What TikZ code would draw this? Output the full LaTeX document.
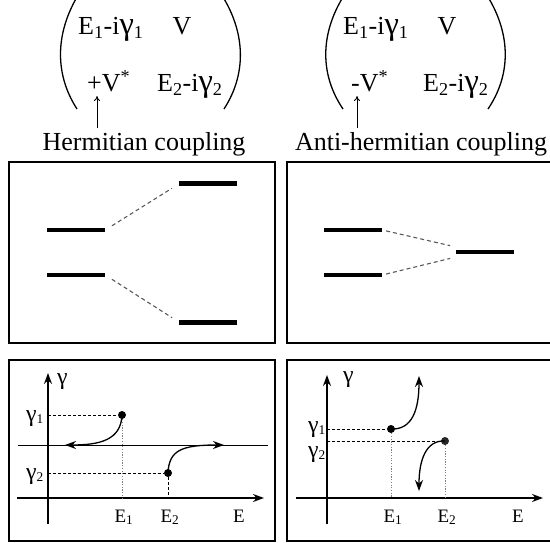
\documentclass[tikz,border=0pt]{standalone}
\usepackage{fontspec}
\usepackage{graphicx}
\setmainfont{Liberation Serif}
\usetikzlibrary{arrows.meta}
\newcommand\gm{\scalebox{1.25}{γ}}
\begin{document}
\begin{tikzpicture}[x=1pt,y=-1pt,
  frame/.style={line width=1.8pt},
  paren/.style={line width=1.3pt},
  big/.style={font=\fontsize{26}{30}\selectfont, inner sep=0pt},
  small/.style={font=\fontsize{19}{22}\selectfont, inner sep=0pt},
  levelbox/.style={fill=black, inner sep=0pt, minimum width=58pt, minimum height=4.5pt},
  conn/.style={gray!70!black, line width=1.1pt, dash pattern=on 4pt off 3pt},
  axis/.style={line width=1.4pt, -{Stealth[length=11pt,width=8pt]}},
  flow/.style={line width=1.3pt, -{Stealth[length=11pt,width=8pt]}},
  hguide/.style={line width=0.8pt, dash pattern=on 3pt off 2pt},
  vguide/.style={gray, line width=0.8pt, dash pattern=on 1.2pt off 1.5pt},
  pt/.style={circle, fill=black, inner sep=0pt, minimum size=8pt},
  coupl/.style={line width=0.9pt, -{To[length=5pt,width=6pt]}}
]
\useasboundingbox (0,0) rectangle (550,543);

% ---------- matrices ----------
\draw[paren] (77,-3) .. controls (55,35) and (55,75) .. (77,109);
\draw[paren] (223,-3) .. controls (246,35) and (246,75) .. (224,109);
\node[big, anchor=base west] (a11) at (78,35) {E\textsubscript{1}-i\gm\textsubscript{1}};
\node[big, anchor=base] (a12) at (182,35) {V};
\node[big, anchor=base west] (a21) at (87,92) {+V\textsuperscript{*}};
\node[big, anchor=base west] (a22) at (157,92) {E\textsubscript{2}-i\gm\textsubscript{2}};
\node[big, anchor=base] (hl) at (144,150) {Hermitian coupling};
\coordinate (ha0) at (97,128);
\coordinate (ha1) at (97,96);
\draw[coupl] (ha0) -- (ha1);

\draw[paren] (343,-3) .. controls (320,35) and (320,75) .. (343,109);
\draw[paren] (488,-3) .. controls (511,35) and (511,75) .. (488,109);
\node[big, anchor=base west] (b11) at (343,35) {E\textsubscript{1}-i\gm\textsubscript{1}};
\node[big, anchor=base] (b12) at (447,35) {V};
\node[big, anchor=base west] (b21) at (351,92) {-V\textsuperscript{*}};
\node[big, anchor=base west] (b22) at (423,92) {E\textsubscript{2}-i\gm\textsubscript{2}};
\node[big, anchor=base] (al) at (421,150) {Anti-hermitian coupling};
\coordinate (aa0) at (357,128);
\coordinate (aa1) at (357,96);
\draw[coupl] (aa0) -- (aa1);

% ---------- frames ----------
\draw[frame] (9,162) rectangle (275,343);
\draw[frame] (287,162) rectangle (553,343);
\draw[frame] (9,360) rectangle (275,541);
\draw[frame] (287,360) rectangle (553,541);

% ---------- level diagrams ----------
\node[levelbox] (hl1) at (76,230) {};
\node[levelbox] (hl2) at (76,275) {};
\node[levelbox, minimum height=5pt] (hr1) at (208,184) {};
\node[levelbox, minimum height=5pt] (hr2) at (208,322) {};
\draw[conn, shorten <=8pt, shorten >=8pt] (hl1.east) -- (hr1.west);
\draw[conn, shorten <=8pt, shorten >=8pt] (hl2.east) -- (hr2.west);

\node[levelbox] (al1) at (353,230) {};
\node[levelbox] (al2) at (353,275) {};
\node[levelbox] (ar) at (485,252) {};
\coordinate (ar1) at (456,247);
\coordinate (ar2) at (456,257);
\draw[conn, shorten <=4pt, shorten >=6pt] (al1.east) -- (ar1);
\draw[conn, shorten <=4pt, shorten >=6pt] (al2.east) -- (ar2);

% ---------- left plot ----------
\coordinate (ly0) at (48,524);
\coordinate (ly1) at (48,373);
\coordinate (lx0) at (17,498);
\coordinate (lx1) at (264,498);
\draw[axis] (ly0) -- (ly1);
\draw[axis] (lx0) -- (lx1);
\coordinate (lh0) at (18,445);
\coordinate (lh1) at (268,445);
\draw[line width=0.9pt] (lh0) -- (lh1);
\node[small, anchor=base west] (lg) at (57,384) {\gm};
\node[small, anchor=base east] (lg1) at (44,421) {\gm\textsubscript{1}};
\node[small, anchor=base east] (lg2) at (44,479) {\gm\textsubscript{2}};
\node[small, anchor=base] (le1) at (124,522) {E\textsubscript{1}};
\node[small, anchor=base] (le2) at (170,522) {E\textsubscript{2}};
\node[small, anchor=base] (le) at (239,522) {E};
\node[pt] (lp1) at (122,415) {};
\node[pt] (lp2) at (168,473) {};
\coordinate (lyg1) at (48,415);
\coordinate (lyg2) at (48,473);
\coordinate (lxe1) at (122,498);
\coordinate (lxe2) at (168,498);
\draw[hguide] (lyg1) -- (lp1);
\draw[hguide] (lyg2) -- (lp2);
\draw[vguide] (lp1) -- (lxe1);
\draw[hguide] (lp2) -- (lxe2);
\coordinate (lt1) at (65,445);
\coordinate (lt2) at (224,445);
\draw[flow] (lp1.center) .. controls (121,440) and (100,445) .. (lt1);
\draw[flow] (lp2.center) .. controls (169,450) and (182,445) .. (lt2);

% ---------- right plot ----------
\coordinate (ry0) at (327,524);
\coordinate (ry1) at (327,375);
\coordinate (rx0) at (296,498);
\coordinate (rx1) at (543,498);
\draw[axis] (ry0) -- (ry1);
\draw[axis] (rx0) -- (rx1);
\node[small, anchor=base west] (rg) at (343,382) {\gm};
\node[small, anchor=base east] (rg1) at (326,432) {\gm\textsubscript{1}};
\node[small, anchor=base east] (rg2) at (326,457) {\gm\textsubscript{2}};
\node[small, anchor=base] (re1) at (393,522) {E\textsubscript{1}};
\node[small, anchor=base] (re2) at (447,522) {E\textsubscript{2}};
\node[small, anchor=base] (re) at (518,522) {E};
\node[pt] (rp1) at (391,429) {};
\node[pt, fill=black!85] (rp2) at (445,441) {};
\coordinate (ryg1) at (327,429);
\coordinate (ryg2) at (327,441);
\coordinate (rxe1) at (391,498);
\coordinate (rxe2) at (445,498);
\draw[hguide] (ryg1) -- (rp1);
\draw[hguide] (ryg2) -- (rp2);
\draw[vguide] (rp1) -- (rxe1);
\draw[vguide] (rp2) -- (rxe2);
\coordinate (rt1) at (419,376);
\coordinate (rt2) at (419,491);
\draw[flow] (rp1.center) .. controls (412,430) and (419,410) .. (rt1);
\draw[flow] (rp2.center) .. controls (426,440) and (419,460) .. (rt2);
\end{tikzpicture}
\end{document}
